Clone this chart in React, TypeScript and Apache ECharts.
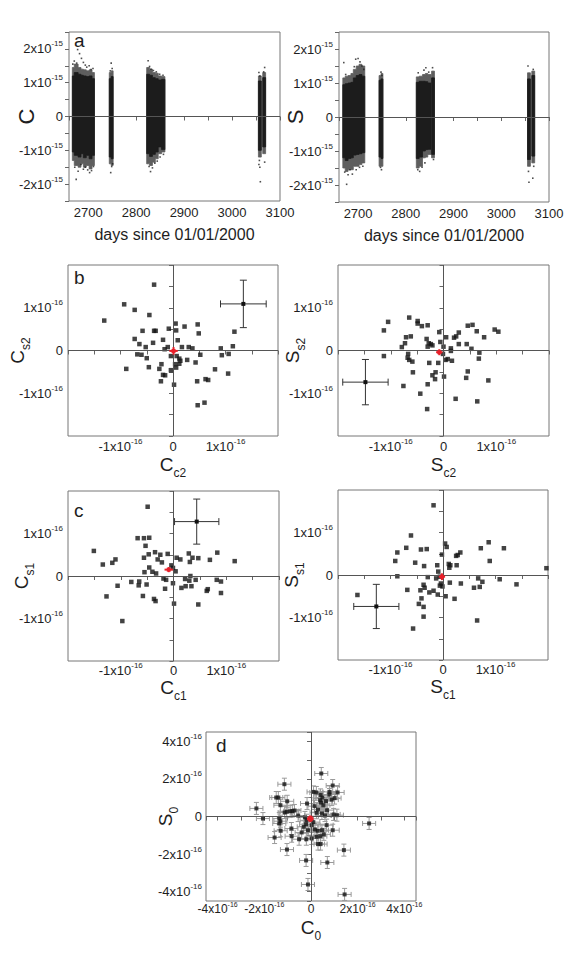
import React, { useEffect, useRef } from "react";
import * as echarts from "echarts";

const FONT = "'Liberation Sans Narrow', 'Liberation Sans', Arial, sans-serif";
const TXT = "#1e1e1e";
const FRAME = "#777777";

// ---------- panel a : daily coefficients (units of 1e-15) ----------
// each cluster = list of columns [dayStart, dayEnd, coreLow, coreHigh, sparseLow, sparseHigh]
const cClusters = [
  [
    [2667, 2671, -1.05, 1.2, -1.3, 1.45], [2671, 2679, -1.15, 1.3, -1.45, 1.55], [2679, 2685, -1.2, 1.25, -1.5, 1.45],
    [2685, 2690, -1.1, 1.22, -1.4, 1.4], [2690, 2696, -1.22, 1.2, -1.5, 1.38], [2696, 2702, -1.15, 1.18, -1.45, 1.35],
    [2702, 2708, -1.25, 1.2, -1.55, 1.38], [2708, 2713, -1.15, 1.12, -1.45, 1.3],
  ],
  [[2744, 2748, -1.2, 1.12, -1.4, 1.3], [2748, 2752, -1.25, 1.18, -1.45, 1.35]],
  [
    [2822, 2828, -1.1, 1.25, -1.4, 1.45], [2828, 2834, -1.18, 1.22, -1.45, 1.4], [2834, 2840, -1.12, 1.15, -1.35, 1.3],
    [2840, 2846, -1.05, 1.12, -1.25, 1.28], [2846, 2853, -0.9, 1.08, -1.1, 1.2], [2853, 2860, -0.98, 1.1, -1.05, 1.18],
  ],
  [[3055, 3061, -1.0, 1.05, -1.2, 1.2]],
  [[3064, 3070, -0.9, 1.15, -1.1, 1.3]],
];
const cOutliers = [
  [2671, 1.64], [2678, 1.98], [2682, 1.86], [2676, 1.58], [2686, 1.72], [2690, 1.6], [2694, 1.52], [2697, 1.46],
  [2702, 1.5], [2706, 1.39], [2710, 1.42], [2668, 1.55],
  [2675, -1.86], [2672, -1.5], [2679, -1.62], [2685, -1.42], [2690, -1.56], [2694, -1.5], [2699, -1.58],
  [2703, -1.66], [2707, -1.6], [2711, -1.48],
  [2748, 1.58], [2750, 1.42], [2746, 1.35], [2747, -1.66], [2749, -1.48], [2751, -1.4],
  [2825, 1.65], [2828, 1.48], [2831, 1.4], [2836, 1.36], [2842, 1.32], [2849, 1.25], [2856, 1.22],
  [2827, -1.48], [2830, -1.63], [2834, -1.52], [2839, -1.38], [2844, -1.32], [2850, -1.2], [2857, -1.12],
  [3056, 1.3], [3058, 1.2], [3068, 1.45], [3066, 1.32],
  [3057, -1.3], [3058, -1.5], [3059, -1.93], [3068, -1.35], [3056, -1.42],
];
const sClusters = [
  [
    [2668, 2673, -1.2, 0.95, -1.5, 1.15], [2673, 2679, -1.28, 0.98, -1.6, 1.2], [2679, 2685, -1.22, 1.0, -1.55, 1.22],
    [2685, 2690, -1.2, 1.02, -1.55, 1.28], [2690, 2696, -1.12, 1.15, -1.45, 1.4], [2696, 2702, -1.1, 1.22, -1.45, 1.5],
    [2702, 2708, -1.08, 1.25, -1.4, 1.55], [2708, 2714, -1.05, 1.2, -1.35, 1.5],
  ],
  [[2744, 2748, -1.18, 1.08, -1.45, 1.22], [2748, 2752, -1.22, 1.12, -1.45, 1.28]],
  [
    [2822, 2828, -1.22, 1.02, -1.5, 1.18], [2828, 2835, -1.18, 1.05, -1.45, 1.2], [2835, 2841, -1.0, 1.05, -1.2, 1.25],
    [2841, 2846, -0.96, 1.04, -1.18, 1.28], [2846, 2853, -0.95, 1.0, -1.1, 1.25],
  ],
  [[2854, 2860, -1.1, 1.15, -1.2, 1.35]],
  [[3055, 3061, -1.25, 1.12, -1.45, 1.3]],
  [[3064, 3070, -1.15, 1.22, -1.35, 1.35]],
];
const sOutliers = [
  [2670, 1.6], [2674, 1.25], [2695, 1.7], [2700, 1.72], [2704, 1.62], [2708, 1.5], [2692, 1.48], [2712, 1.4],
  [2676, -1.98], [2672, -1.62], [2679, -1.7], [2683, -1.55], [2688, -1.68], [2696, -1.55], [2703, -1.48], [2710, -1.45],
  [2748, 1.32], [2750, 1.22], [2747, -1.48], [2749, -1.55],
  [2826, 1.3], [2838, 1.38], [2842, 1.45], [2848, 1.32], [2856, 1.45],
  [2825, -1.55], [2829, -1.6], [2834, -1.48], [2840, -1.35], [2858, -1.25],
  [3056, 1.5], [3067, 1.4], [3057, -1.6], [3058, -1.92], [3066, -1.8], [3068, -1.45],
];

// ---------- panel b : C_c2/C_s2 and S_c2/S_s2 (units of 1e-16) ----------
const bC = [
  [-0.36, 1.54], [-0.93, 1.08], [-0.73, 0.95], [-0.45, 0.83], [-1.31, 0.7], [0.05, 0.63], [0.47, 0.61], [0.22, 0.56],
  [-0.08, 0.51], [0.06, 0.47], [-0.58, 0.46], [-0.36, 0.46], [-0.33, 0.46], [0.49, 0.4], [1.17, 0.44], [-0.73, 0.27],
  [-0.19, 0.25], [0.09, 0.24], [-0.38, 0.18], [-0.64, 0.15], [-0.52, 0.08], [-0.1, 0.08], [-0.16, 0.03], [0.17, 0.08],
  [0.3, 0.08], [0.37, 0.05], [1.14, 0.1], [0.91, 0.05], [-0.68, -0.09], [-0.6, -0.1], [-0.5, -0.18], [-0.04, -0.13],
  [0.07, -0.13], [0.52, -0.1], [0.93, -0.11], [1.06, -0.08], [-0.89, -0.43], [-0.46, -0.39], [-0.22, -0.32],
  [-0.26, -0.43], [0.12, -0.19], [0.14, -0.24], [0.12, -0.31], [0.04, -0.32], [0.06, -0.4], [-0.04, -0.46],
  [0.27, -0.22], [0.43, -0.28], [0.8, -0.44], [-0.19, -0.57], [-0.15, -0.58], [-0.23, -0.72], [0.46, -0.72],
  [0.62, -0.67], [0.67, -0.69], [1.05, -0.54], [0.02, -0.8], [0.47, -1.28], [0.6, -1.22],
];
const bS = [
  [-0.65, 0.77], [-1.05, 0.67], [-0.49, 0.69], [-0.49, 0.63], [-0.41, 0.57], [-0.3, 0.59], [-1.13, 0.47], [-0.62, 0.33],
  [-0.71, 0.31], [-0.73, 0.17], [-0.79, 0.08], [-0.32, 0.27], [-0.28, 0.17], [-0.24, 0.15], [-0.21, 0.12], [-0.3, 0.09],
  [-0.08, 0.43], [-0.06, 0.2], [0.05, 0.31], [0.0, 0.09], [0.14, 0.05], [0.14, -0.01], [0.2, 0.3], [0.24, 0.33],
  [0.29, 0.42], [0.29, 0.15], [0.44, 0.15], [0.46, 0.58], [0.55, 0.6], [0.63, 0.45], [0.77, 0.31], [0.53, 0.04],
  [0.68, -0.05], [0.67, -0.19], [0.97, 0.49], [1.04, 0.44], [-1.13, -0.13], [-0.67, -0.08], [-0.68, -0.17],
  [-0.65, -0.22], [-0.59, -0.26], [-0.58, -0.51], [-0.27, -0.29], [-0.1, -0.29], [-0.01, -0.08], [0.04, -0.22],
  [0.08, -0.2], [0.16, -0.24], [-0.15, -0.51], [-0.21, -0.58], [-0.16, -0.67], [0.01, -0.61], [-0.76, -0.83],
  [-0.3, -0.79], [-0.44, -1.01], [-0.31, -1.37], [0.23, -1.13], [0.64, -1.19], [0.85, -0.7], [0.43, -0.64], [0.46, -0.49],
];
// ---------- panel c : C_c1/C_s1 and S_c1/S_s1 (units of 1e-16) ----------
const cC = [
  [-0.49, 1.63], [-0.68, 0.89], [-0.56, 0.89], [-0.46, 0.9], [-0.53, 0.71], [-1.51, 0.59], [-0.35, 0.56], [-0.47, 0.51],
  [-0.56, 0.43], [-0.25, 0.5], [-0.11, 0.52], [-0.3, 0.39], [-0.22, 0.32], [-1.34, 0.27], [-1.16, 0.31], [-1.1, 0.39],
  [0.06, 0.43], [0.13, 0.39], [0.29, 0.53], [0.36, 0.43], [0.47, 0.42], [0.31, 0.33], [0.69, 0.38], [0.83, 0.55],
  [1.16, 0.35], [-0.46, 0.2], [-0.55, 0.09], [-0.4, 0.1], [-0.33, 0.06], [-0.04, 0.25], [-0.01, 0.19], [0.04, 0.11],
  [-0.19, -0.06], [-0.14, -0.09], [-0.01, -0.17], [0.32, 0.0], [0.22, -0.07], [0.3, -0.11], [0.42, -0.09],
  [0.82, -0.09], [0.9, -0.13], [-0.8, -0.14], [-0.65, -0.13], [-0.66, -0.22], [-0.51, -0.2], [-1.06, -0.23],
  [-0.16, -0.3], [0.15, -0.28], [0.23, -0.24], [0.34, -0.24], [0.63, -0.35], [0.65, -0.31], [0.9, -0.4],
  [-0.58, -0.47], [-0.37, -0.54], [-0.34, -0.59], [-1.27, -0.48], [0.01, -0.65], [0.47, -0.67], [-0.97, -1.06],
];
const cS = [
  [-0.18, 1.64], [-0.61, 0.93], [-0.7, 0.64], [-0.87, 0.53], [-0.91, 0.33], [-0.42, 0.6], [-0.31, 0.61], [-0.53, 0.29],
  [-0.36, 0.21], [-0.11, 0.23], [-0.02, 0.48], [0.04, 0.74], [0.07, 0.66], [0.11, 0.26], [0.14, 0.23], [0.12, 0.17],
  [0.25, 0.45], [0.28, 0.47], [0.33, 0.53], [0.26, 0.23], [0.72, 0.63], [0.87, 0.77], [0.89, 0.33], [1.16, 0.63],
  [1.97, 0.16], [-0.87, -0.03], [-0.29, -0.05], [-0.09, 0.08], [-0.13, -0.08], [-0.06, -0.04], [-0.04, -0.2],
  [-0.01, -0.27], [-0.06, -0.25], [0.13, -0.18], [0.34, -0.2], [0.67, -0.08], [0.75, -0.16], [0.59, -0.3],
  [0.7, -0.28], [1.08, -0.1], [1.4, -0.22], [-0.68, -0.35], [-0.43, -0.36], [-0.37, -0.23], [-0.35, -0.3],
  [-0.26, -0.41], [-0.18, -0.37], [-0.1, -0.46], [-0.41, -0.55], [0.05, -0.5], [0.22, -0.56], [-0.46, -0.68],
  [-0.37, -0.75], [-0.37, -0.98], [-1.63, -0.47], [-0.57, -1.26], [0.65, -1.07],
];
// typical error bar [x, y, errX, errY] and weighted mean [x, y, errX, errY]
const bCErr = [[1.34, 1.09, 0.435, 0.555]];
const bSErr = [[-1.48, -0.74, 0.43, 0.53]];
const cCErr = [[0.44, 1.28, 0.42, 0.53]];
const cSErr = [[-1.27, -0.74, 0.43, 0.52]];
const bCMean = [[0.01, -0.01, 0.08, 0.09]];
const bSMean = [[-0.08, -0.04, 0.06, 0.07]];
const cCMean = [[-0.09, 0.15, 0.08, 0.06]];
const cSMean = [[-0.02, -0.04, 0.06, 0.08]];

// ---------- panel d : C_0 / S_0 (units of 1e-16) ----------
const dPts = [
  [0.44, 2.29], [-1.14, 1.72], [0.93, 1.65], [0.79, 1.31], [1.14, 1.28], [0.11, 1.31], [0.23, 1.28], [0.41, 1.15],
  [0.49, 1.01], [0.79, 1.17], [0.39, 0.87], [0.43, 0.74], [0.53, 0.6], [0.64, 0.82], [0.89, 0.9], [1.01, 0.98],
  [-1.49, 1.01], [-1.4, 1.01], [-1.31, 0.6], [-1.02, 0.81], [-0.17, 0.69], [-2.34, 0.43], [-1.04, 0.25], [-0.89, 0.28],
  [-0.71, 0.32], [-1.13, 0.21], [-0.8, 0.29], [0.3, 0.37], [0.24, 0.2], [0.47, 0.16], [0.69, 0.34], [0.97, 0.11],
  [1.11, 0.07], [-2.06, -0.11], [-1.36, -0.11], [-1.31, -0.25], [-1.36, -0.37], [-1.3, -0.76], [-0.26, -0.05],
  [-0.19, -0.2], [-0.21, -0.41], [-0.31, -0.55], [-0.13, -0.73], [0.03, -0.46], [0.17, -0.69], [0.29, -0.76],
  [0.47, -0.73], [0.67, -0.46], [0.93, -0.73], [-0.84, -0.64], [-0.83, -1.05], [-0.51, -1.21], [-0.2, -1.21],
  [0.03, -1.17], [0.24, -1.08], [0.4, -1.05], [0.3, -1.47], [0.41, -1.47], [-1.56, -1.12], [-1.03, -1.76],
  [-0.21, -2.34], [0.7, -2.45], [1.41, -1.79], [2.49, -0.37], [-0.13, -3.62], [1.44, -4.15],
  [-0.55, 0.05], [0.1, -0.3], [0.55, -0.95], [0.15, 0.55], [-0.4, -0.85], [0.6, 0.05],
];
const dErrX = 0.28;
const dErrY = 0.32;
const dMean = [[-0.03, -0.12, 0.14, 0.18]];

// ---------- tick labels ----------
const TICKS_A = [-2, -1, 0, 1, 2];
const TICKS_BC = [-1, 0, 1];
const TICKS_D = [-4, -2, 0, 2, 4];
const DAY_TICKS = [2700, 2800, 2900, 3000, 3100];

const tickRich = (size: number, sup: number, lh: number) => ({
  m: { fontSize: size, lineHeight: lh, fontFamily: FONT, color: TXT },
  s: { fontSize: sup, lineHeight: sup, verticalAlign: "top", fontFamily: FONT, color: TXT },
});
const nameRich = (size: number, sub: number) => ({
  m: { fontSize: size, lineHeight: 24, verticalAlign: "top", fontFamily: FONT, color: TXT },
  s: { fontSize: sub, lineHeight: sub, verticalAlign: "bottom", fontFamily: FONT, color: TXT },
});

const sciFmt = (show: number[], exp: string) => (v: number) => {
  const r = Math.round(v * 1000) / 1000;
  if (!show.includes(r)) return "";
  if (r === 0) return "{m|0}";
  return `{m|${r}x10}{s|${exp}}`;
};

const tickStyle = { show: true, length: 4, lineStyle: { color: "#666", width: 1 } };

function sciAxis(gridIndex: number, dim: "x" | "y", o: any) {
  const ax: any = {
    gridIndex,
    type: "value",
    min: o.min,
    max: o.max,
    axisLine: { show: false },
    axisTick: tickStyle,
    splitLine: { show: false },
    axisLabel: {
      formatter: sciFmt(o.show, o.exp),
      rich: o.tickRich || tickRich(13, 8, 18),
      margin: o.margin,
      showMinLabel: true,
      showMaxLabel: true,
      color: TXT,
      fontFamily: FONT,
    },
    name: o.name,
    nameLocation: "middle",
    nameGap: o.nameGap,
    nameMoveOverlap: false,
    nameTextStyle: { rich: o.rich, fontFamily: FONT, color: TXT, fontSize: o.nameSize || 20 },
  };
  if (o.interval != null) ax.interval = o.interval;
  if (o.splitNumber != null) ax.splitNumber = o.splitNumber;
  if (dim === "y") ax.nameRotate = 90;
  return ax;
}

function dayAxis(gridIndex: number) {
  return {
    gridIndex,
    type: "value",
    min: 2660,
    max: 3100,
    splitNumber: 9,
    axisLine: { show: false },
    axisTick: tickStyle,
    splitLine: { show: false },
    axisLabel: {
      formatter: (v: number) => (DAY_TICKS.includes(Math.round(v)) ? String(Math.round(v)) : ""),
      fontSize: 13,
      fontFamily: FONT,
      color: TXT,
      margin: 5,
      showMinLabel: true,
      showMaxLabel: true,
    },
    name: "days since 01/01/2000",
    nameLocation: "middle",
    nameGap: 25,
    nameMoveOverlap: false,
    nameTextStyle: { fontSize: 16, fontFamily: FONT, color: TXT },
  };
}

// one polygon per cluster: stepped envelope through the columns
const clusterRender = (clusters: number[][][]) => (params: any, api: any) => {
  const cols = clusters[api.value(2)];
  const outer: number[][] = [];
  const core: number[][] = [];
  cols.forEach((c) => {
    outer.push(api.coord([c[0], c[5]]), api.coord([c[1], c[5]]));
    core.push(api.coord([c[0], c[3]]), api.coord([c[1], c[3]]));
  });
  for (let k = cols.length - 1; k >= 0; k--) {
    const c = cols[k];
    outer.push(api.coord([c[1], c[4]]), api.coord([c[0], c[4]]));
    core.push(api.coord([c[1], c[2]]), api.coord([c[0], c[2]]));
  }
  return {
    type: "group",
    children: [
      { type: "polygon", shape: { points: outer }, style: { fill: "#5e5e5e", stroke: "#5e5e5e", lineWidth: 0.8 } },
      { type: "polygon", shape: { points: core }, style: { fill: "#1c1c1c", stroke: "#1c1c1c", lineWidth: 0.8 } },
    ],
  };
};

const errRender = (color: string, lw: number, cap: number, dot: number, dotColor: string) => (params: any, api: any) => {
  const x = api.value(0), y = api.value(1), ex = api.value(2), ey = api.value(3);
  const c = api.coord([x, y]);
  const l = api.coord([x - ex, y]), r = api.coord([x + ex, y]);
  const t = api.coord([x, y + ey]), b = api.coord([x, y - ey]);
  const st = { stroke: color, lineWidth: lw };
  const children: any[] = [
    { type: "line", shape: { x1: l[0], y1: l[1], x2: r[0], y2: r[1] }, style: st },
    { type: "line", shape: { x1: t[0], y1: t[1], x2: b[0], y2: b[1] }, style: st },
  ];
  if (cap > 0) {
    children.push(
      { type: "line", shape: { x1: l[0], y1: l[1] - cap, x2: l[0], y2: l[1] + cap }, style: st },
      { type: "line", shape: { x1: r[0], y1: r[1] - cap, x2: r[0], y2: r[1] + cap }, style: st },
      { type: "line", shape: { x1: t[0] - cap, y1: t[1], x2: t[0] + cap, y2: t[1] }, style: st },
      { type: "line", shape: { x1: b[0] - cap, y1: b[1], x2: b[0] + cap, y2: b[1] }, style: st },
    );
  }
  if (dot > 0) {
    children.push({ type: "rect", shape: { x: c[0] - dot / 2, y: c[1] - dot / 2, width: dot, height: dot }, style: { fill: dotColor } });
  }
  return { type: "group", children };
};

function zeroLines(i: number, both: boolean) {
  return {
    type: "scatter",
    xAxisIndex: i,
    yAxisIndex: i,
    data: [],
    z: 1,
    silent: true,
    markLine: {
      silent: true,
      symbol: ["none", "none"],
      label: { show: false },
      lineStyle: { color: "#555", width: 1, type: "solid" },
      emphasis: { disabled: true },
      animation: false,
      data: both ? [{ yAxis: 0 }, { xAxis: 0 }] : [{ yAxis: 0 }],
    },
  };
}

function scatterPts(i: number, data: number[][], size: number) {
  return {
    type: "scatter",
    xAxisIndex: i,
    yAxisIndex: i,
    data,
    symbol: "rect",
    symbolSize: size,
    itemStyle: { color: "#141414" },
    z: 4,
    silent: true,
  };
}

function custom(i: number, data: number[][], renderItem: any, z: number) {
  return {
    type: "custom",
    xAxisIndex: i,
    yAxisIndex: i,
    data,
    renderItem,
    z,
    silent: true,
    encode: { x: 0, y: 1 },
  };
}

function clusterSeries(i: number, clusters: number[][][]) {
  return {
    type: "custom",
    xAxisIndex: i,
    yAxisIndex: i,
    // [firstDay, lastDay, clusterIndex]
    data: clusters.map((cl, k) => [cl[0][0], cl[cl.length - 1][1], k]),
    renderItem: clusterRender(clusters),
    z: 2,
    silent: true,
    encode: { x: [0, 1] },
  };
}

function buildOption() {
  const gridBoxes = [
    { left: 69, top: 32, width: 211, height: 169 },
    { left: 339, top: 32, width: 210, height: 170 },
    { left: 68, top: 265, width: 210, height: 171 },
    { left: 338, top: 265, width: 211, height: 171 },
    { left: 68, top: 491, width: 211, height: 170 },
    { left: 338, top: 490, width: 210, height: 170 },
    { left: 206, top: 732, width: 210, height: 169 },
  ];
  const grid = gridBoxes.map((g) => ({
    ...g,
    show: true,
    borderColor: FRAME,
    borderWidth: 1,
    backgroundColor: "transparent",
    containLabel: false,
    outerBoundsMode: "none",
  }));

  const bc = { min: -2, max: 2, interval: 0.5, show: TICKS_BC, exp: "-16" };
  const xAxis = [
    dayAxis(0),
    dayAxis(1),
    sciAxis(2, "x", { ...bc, margin: 1, name: "{m|C}{s|c2}", nameGap: 19, rich: nameRich(19, 12) }),
    sciAxis(3, "x", { ...bc, margin: 1, name: "{m|S}{s|c2}", nameGap: 19, rich: nameRich(19, 12) }),
    sciAxis(4, "x", { ...bc, margin: 0, name: "{m|C}{s|c1}", nameGap: 17, rich: nameRich(19, 12) }),
    sciAxis(5, "x", { ...bc, margin: 0, name: "{m|S}{s|c1}", nameGap: 17, rich: nameRich(19, 12) }),
    sciAxis(6, "x", {
      min: -4.5, max: 4.5, splitNumber: 9, show: TICKS_D, exp: "-16", margin: 0,
      tickRich: tickRich(12, 7, 16),
      name: "{m|C}{s|0}", nameGap: 17, rich: nameRich(19, 12),
    }),
  ];
  const aY = { min: -2.5, max: 2.5, interval: 0.5, show: TICKS_A, exp: "-15", margin: 6, nameSize: 22 };
  const yAxis = [
    sciAxis(0, "y", { ...aY, name: "C", nameGap: 32 }),
    sciAxis(1, "y", { ...aY, name: "S", nameGap: 33 }),
    sciAxis(2, "y", { ...bc, margin: 5, name: "{m|C}{s|s2}", nameGap: 36, rich: nameRich(19, 12) }),
    sciAxis(3, "y", { ...bc, margin: 5, name: "{m|S}{s|s2}", nameGap: 31, rich: nameRich(19, 12) }),
    sciAxis(4, "y", { ...bc, margin: 5, name: "{m|C}{s|s1}", nameGap: 32, rich: nameRich(19, 12) }),
    sciAxis(5, "y", { ...bc, margin: 5, name: "{m|S}{s|s1}", nameGap: 32, rich: nameRich(19, 12) }),
    sciAxis(6, "y", { min: -4.5, max: 4.5, splitNumber: 9, show: TICKS_D, exp: "-16", margin: 4, name: "{m|S}{s|0}", nameGap: 26, rich: nameRich(19, 12) }),
  ];

  const series: any[] = [
    // panel a
    zeroLines(0, false),
    clusterSeries(0, cClusters),
    { ...scatterPts(0, cOutliers, 1.6), itemStyle: { color: "#222" } },
    zeroLines(1, false),
    clusterSeries(1, sClusters),
    { ...scatterPts(1, sOutliers, 1.6), itemStyle: { color: "#222" } },
    // panel b
    zeroLines(2, true),
    scatterPts(2, bC, 4.5),
    custom(2, bCErr, errRender("#333", 1, 3.5, 4, "#111"), 5),
    custom(2, bCMean, errRender("#e8202a", 2, 0, 4, "#e8202a"), 6),
    zeroLines(3, true),
    scatterPts(3, bS, 4.5),
    custom(3, bSErr, errRender("#333", 1, 3.5, 4, "#111"), 5),
    custom(3, bSMean, errRender("#e8202a", 2, 0, 4, "#e8202a"), 6),
    // panel c
    zeroLines(4, true),
    scatterPts(4, cC, 4.5),
    custom(4, cCErr, errRender("#333", 1, 3.5, 4, "#111"), 5),
    custom(4, cCMean, errRender("#e8202a", 2, 0, 4, "#e8202a"), 6),
    zeroLines(5, true),
    scatterPts(5, cS, 4.5),
    custom(5, cSErr, errRender("#333", 1, 3.5, 4, "#111"), 5),
    custom(5, cSMean, errRender("#e8202a", 2, 0, 4, "#e8202a"), 6),
    // panel d
    zeroLines(6, true),
    custom(6, dPts.map((p) => [p[0], p[1], dErrX, dErrY]), errRender("#9a9a9a", 1, 2.5, 0, "#000"), 3),
    scatterPts(6, dPts, 4),
    custom(6, dMean, errRender("#e8202a", 2.5, 0, 5, "#e8202a"), 6),
  ];

  const letter = (t: string, x: number, y: number) => ({
    type: "text",
    x,
    y,
    silent: true,
    style: {
      text: t,
      fontSize: 19,
      fontFamily: FONT,
      fill: TXT,
      align: "left",
      verticalAlign: "middle",
      textAlign: "left",
      textVerticalAlign: "middle",
    },
  });

  return {
    animation: false,
    backgroundColor: "#ffffff",
    grid,
    xAxis,
    yAxis,
    series,
    graphic: [letter("a", 74, 40), letter("b", 74, 277), letter("c", 74, 510), letter("d", 216, 745)],
  };
}

export default function App() {
  const ref = useRef<HTMLDivElement>(null);
  useEffect(() => {
    document.body.style.margin = "0";
    const chart = echarts.init(ref.current!, null, { renderer: "svg" });
    chart.setOption(buildOption() as any);
    return () => chart.dispose();
  }, []);
  return (
    <div
      ref={ref}
      style={{ position: "absolute", left: 0, top: 0, width: 581, height: 962, background: "#fff" }}
    />
  );
}
